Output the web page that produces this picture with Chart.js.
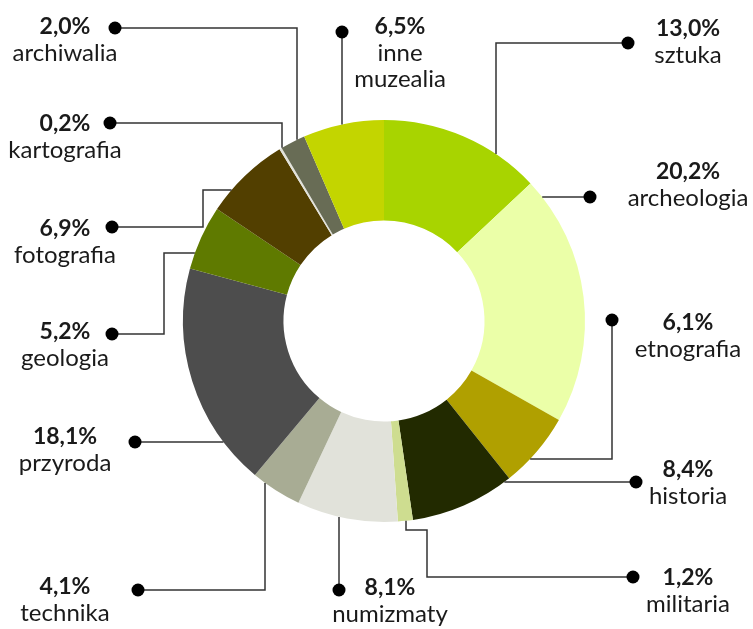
<!DOCTYPE html>
<html lang="pl">
<head>
<meta charset="utf-8">
<title>Struktura zbiorów muzealnych</title>
<script src="https://cdn.jsdelivr.net/npm/chart.js@4.4.1/dist/chart.umd.min.js"></script>
<style>
  html, body { margin: 0; padding: 0; background: #fff; }
  #wrap { width: 753px; height: 629px; position: relative; }
</style>
</head>
<body>
<div id="wrap"><canvas id="chart"></canvas></div>
<script>
// Dane (udział w %), zgodnie z ruchem wskazówek zegara od godziny 12
const categories = ["sztuka", "archeologia", "etnografia", "historia", "militaria", "numizmaty",
  "technika", "przyroda", "geologia", "fotografia", "kartografia", "archiwalia", "inne muzealia"]
const shares = [13.0, 20.2, 6.1, 8.4, 1.2, 8.1, 4.1, 18.1, 5.2, 6.9, 0.2, 2.0, 6.5]
const colors = ["#a8d400", "#ebffa8", "#b0a000", "#222a00", "#cedd90", "#e1e2da",
  "#a8ac94", "#4d4d4d", "#5f7a00", "#523f00", "#e2e2da", "#686c55", "#c3d500"]

// Rozmieszczenie podpisów i linii odniesienia (kropka, punkty załamania, kierunek ostatniego odcinka)
const callouts = [
  { dot: [628, 43], via: [[496, 43]], end: "v", tx: 688, ty: 29 },
  { dot: [590, 197], via: [], end: "h", tx: 688, ty: 172 },
  { dot: [612, 320], via: [[612, 459]], end: "h", tx: 688, ty: 323 },
  { dot: [636, 482], via: [], end: "h", tx: 688, ty: 470 },
  { dot: [633, 577], via: [[427, 577], [427, 530], [406, 530]], end: "v", tx: 688, ty: 578 },
  { dot: [339, 590], via: [], end: "v", tx: 390, ty: 588 },
  { dot: [138, 590], via: [[265, 590]], end: "v", tx: 65, ty: 587 },
  { dot: [135, 442], via: [], end: "h", tx: 65, ty: 437 },
  { dot: [112, 334], via: [[164, 334], [164, 253]], end: "h", tx: 65, ty: 332 },
  { dot: [112, 227], via: [[203, 227], [203, 190]], end: "h", tx: 65, ty: 229 },
  { dot: [110, 123], via: [[282, 123]], end: "v", tx: 65, ty: 124 },
  { dot: [115, 28], via: [[297, 28]], end: "v", tx: 65, ty: 27 },
  { dot: [342, 32], via: [], end: "v", tx: 400, ty: 27, wrap: true }
]

const FONT = "Lato, 'Open Sans', sans-serif"

function formatPct(v) {
  return v.toFixed(1).replace(".", ",") + "%"
}

// Plugin rysujący podpisy z liniami odniesienia
const calloutPlugin = {
  id: "callouts",
  afterDraw(chart) {
    const ctx = chart.ctx
    const meta = chart.getDatasetMeta(0)

    callouts.forEach((c, i) => {
      const arc = meta.data[i]
      const cx = arc.x
      const cy = arc.y
      const r = arc.outerRadius

      // punkty linii: kropka -> załamania -> krawędź pierścienia
      const pts = [c.dot].concat(c.via)
      const last = pts[pts.length - 1]
      let endPt
      if (c.end === "v") {
        const d = Math.sqrt(Math.max(0, r * r - (last[0] - cx) ** 2))
        endPt = [last[0], last[1] < cy ? cy - d : cy + d]
      } else {
        const d = Math.sqrt(Math.max(0, r * r - (last[1] - cy) ** 2))
        endPt = [last[0] < cx ? cx - d : cx + d, last[1]]
      }
      pts.push(endPt)

      ctx.save()
      ctx.strokeStyle = "#333333"
      ctx.lineWidth = 1.5
      ctx.beginPath()
      ctx.moveTo(pts[0][0], pts[0][1])
      for (let k = 1; k < pts.length; k++) ctx.lineTo(pts[k][0], pts[k][1])
      ctx.stroke()

      ctx.fillStyle = "#000"
      ctx.beginPath()
      ctx.arc(c.dot[0], c.dot[1], 6.5, 0, Math.PI * 2)
      ctx.fill()

      // tekst
      ctx.fillStyle = "#1a1a1a"
      ctx.textAlign = "center"
      ctx.textBaseline = "middle"
      ctx.font = "bold 23px " + FONT
      ctx.fillText(formatPct(shares[i]), c.tx, c.ty)
      ctx.font = "24px " + FONT
      const lines = c.wrap ? categories[i].split(" ") : [categories[i]]
      lines.forEach((line, k) => {
        ctx.fillText(line, c.tx, c.ty + 26 * (k + 1))
      })
      ctx.restore()
    })
  }
}

const ctx = document.getElementById("chart").getContext("2d")
new Chart(ctx, {
  type: "doughnut",
  data: {
    labels: categories,
    datasets: [
      {
        data: shares,
        backgroundColor: colors,
        borderWidth: 0,
        hoverOffset: 0
      }
    ]
  },
  options: {
    responsive: true,
    maintainAspectRatio: false,
    animation: false,
    cutout: "50%",
    layout: {
      padding: { left: 183, right: 168, top: 120, bottom: 107 }
    },
    plugins: {
      legend: { display: false },
      tooltip: { enabled: true }
    }
  },
  plugins: [calloutPlugin]
})
</script>
</body>
</html>
